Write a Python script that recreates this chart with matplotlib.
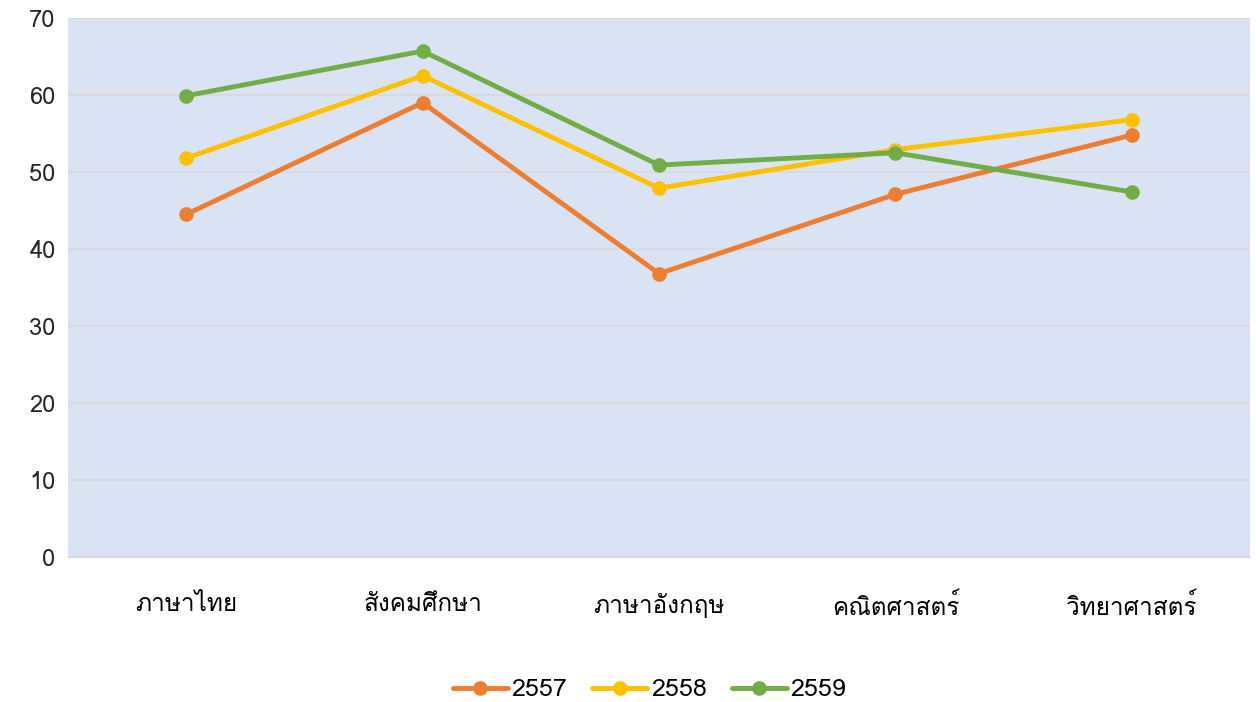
import matplotlib
matplotlib.use("Agg")
import matplotlib.pyplot as plt
from matplotlib import font_manager
from matplotlib.ft2font import FT2Font

# ข้อมูล
vichas = ["ภาษาไทย", "สังคมศึกษา", "ภาษาอังกฤษ", "คณิตศาสตร์", "วิทยาศาสตร์"]
pi_2557 = [44.5, 59.0, 36.8, 47.1, 54.8]
pi_2558 = [51.8, 62.5, 47.9, 52.9, 56.8]
pi_2559 = [59.9, 65.7, 50.9, 52.5, 47.4]
y_ticks = [0, 10, 20, 30, 40, 50, 60, 70]

# หาฟอนต์ที่มีตัวอักษรไทย
thai_font = None
for f in font_manager.fontManager.ttflist:
    try:
        cmap = FT2Font(f.fname).get_charmap()
    except Exception:
        continue
    if 0x0E20 in cmap and 0x0E29 in cmap:
        thai_font = f.name
        break

families = ([thai_font] if thai_font else []) + ["DejaVu Sans"]
plt.rcParams["font.family"] = families

fig = plt.figure(figsize=(12.56, 7.02), dpi=100)
ax = fig.add_axes([68 / 1256, 1 - 557 / 702, (1250 - 68) / 1256, (557 - 18) / 702])
ax.set_facecolor("#DAE3F3")

x = range(len(vichas))
for vals, col, lab in [(pi_2557, "#ED7D31", "2557"),
                       (pi_2558, "#FFC000", "2558"),
                       (pi_2559, "#70AD47", "2559")]:
    ax.plot(x, vals, color=col, lw=3.5, marker="o", ms=9.5, label=lab,
            solid_capstyle="round", solid_joinstyle="round")

ax.set_xlim(-0.5, 4.5)
ax.set_ylim(0, 70)
ax.set_yticks(y_ticks)
ax.set_xticks(list(x))
ax.set_xticklabels(vichas, fontsize=17.5, color="#000000")
ax.tick_params(axis="x", length=0, pad=26)
ax.tick_params(axis="y", length=0, pad=9, labelsize=17, labelcolor="#262626")

ax.grid(axis="y", color="#D9D9D9", lw=1.2)
ax.set_axisbelow(True)
for s in ["top", "right", "left"]:
    ax.spines[s].set_visible(False)
ax.spines["bottom"].set_color("#D9D9D9")

fig.legend(loc="center", bbox_to_anchor=(0.517, 1 - 690 / 702), ncol=3, frameon=False,
           fontsize=18, handlelength=2.2, columnspacing=1.0, handletextpad=0.15)

fig.savefig("out.png", dpi=100)
